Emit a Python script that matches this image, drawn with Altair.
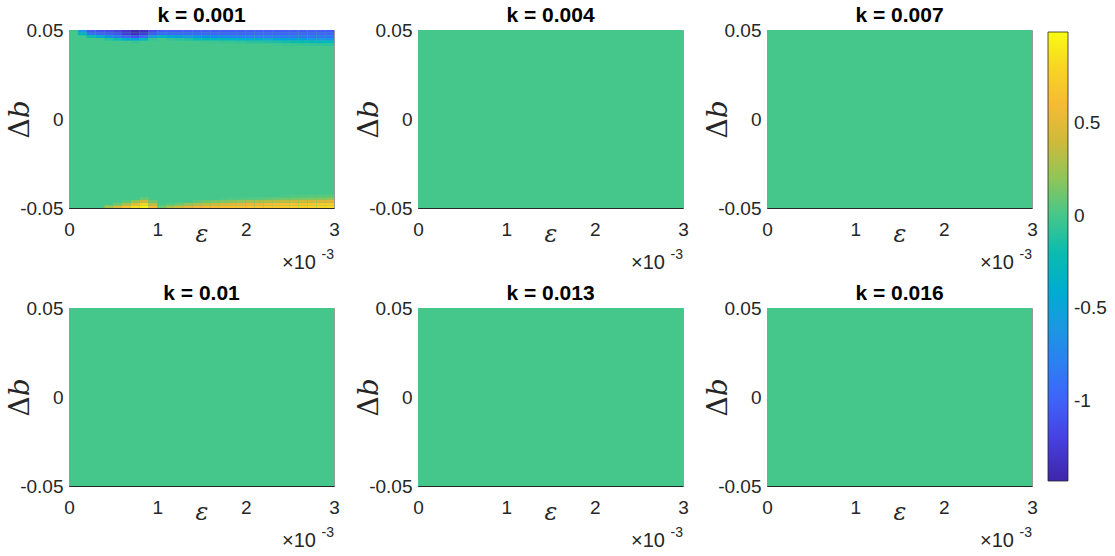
import altair as alt
import pandas as pd

# Coupling constants, one panel each
K_VALUES = [0.001, 0.004, 0.007, 0.01, 0.013, 0.016]

# Grid of the eps axis (0 .. 3e-3) and the edge bands of the Δb axis
EPS_EDGES = [round(i * 1e-4, 6) for i in range(31)]
DB_TOP_EDGES = [0.05, 0.0485, 0.047, 0.0455, 0.044, 0.0425, 0.041]
DB_BOTTOM_EDGES = [-0.05, -0.0485, -0.047, -0.0455, -0.044, -0.0425, -0.041]

# k = 0.001: values in the upper band, row 0 at Δb = 0.05 going down
TOP_ROWS = [
    [0, -0.6, -1.05, -1.1, -1.15, -1.2, -1.3, -1.4, -1.35, -1.15, -1.05, -1.05, -1.05, -1.05, -1.05,
     -1.05, -1.05, -1.05, -1.05, -1.05, -1.05, -1.05, -1.05, -1.05, -1.05, -1.05, -1.05, -1.05, -1.05, -1.05],
    [0, -0.3, -0.9, -1.0, -1.05, -1.1, -1.25, -1.35, -1.25, -1.05, -0.95, -0.95, -0.95, -0.95, -0.98,
     -1.0, -1.0, -1.0, -1.0, -1.0, -1.0, -1.0, -1.0, -1.0, -1.0, -1.0, -1.0, -1.0, -1.0, -1.0],
    [0, 0, -0.2, -0.4, -0.65, -0.85, -1.0, -1.1, -0.95, -0.6, -0.35, -0.5, -0.55, -0.6, -0.65,
     -0.7, -0.72, -0.74, -0.76, -0.78, -0.8, -0.8, -0.82, -0.82, -0.84, -0.84, -0.85, -0.86, -0.86, -0.87],
    [0, 0, 0, 0, -0.1, -0.2, -0.4, -0.55, -0.3, -0.05, 0, -0.05, -0.1, -0.15, -0.2,
     -0.25, -0.3, -0.32, -0.35, -0.38, -0.4, -0.42, -0.45, -0.48, -0.5, -0.52, -0.55, -0.58, -0.6, -0.62],
    [0, 0, 0, 0, 0, 0, 0, -0.05, 0, 0, 0, 0, 0, 0, 0,
     -0.02, -0.03, -0.05, -0.06, -0.08, -0.1, -0.12, -0.14, -0.16, -0.18, -0.2, -0.22, -0.25, -0.28, -0.3],
    [0, 0, 0, 0, 0, 0, 0, 0, 0, 0, 0, 0, 0, 0, 0,
     0, 0, 0, 0, 0, 0, 0, 0, -0.02, -0.03, -0.04, -0.05, -0.06, -0.07, -0.08],
]

# k = 0.001: values in the lower band, row 0 at Δb = -0.05 going up
BOTTOM_ROWS = [
    [0, 0, 0, 0, 0.25, 0.45, 0.65, 0.85, 0.95, 0.6, 0.1, 0.3, 0.4, 0.5, 0.55,
     0.6, 0.62, 0.65, 0.67, 0.68, 0.7, 0.7, 0.72, 0.72, 0.74, 0.75, 0.76, 0.78, 0.8, 0.82],
    [0, 0, 0, 0, 0, 0.1, 0.3, 0.55, 0.8, 0.35, 0, 0.05, 0.1, 0.2, 0.3,
     0.35, 0.4, 0.45, 0.5, 0.52, 0.55, 0.57, 0.6, 0.62, 0.64, 0.66, 0.68, 0.7, 0.72, 0.74],
    [0, 0, 0, 0, 0, 0, 0.05, 0.2, 0.4, 0.1, 0, 0, 0, 0, 0.05,
     0.1, 0.12, 0.15, 0.18, 0.2, 0.25, 0.28, 0.3, 0.32, 0.35, 0.38, 0.4, 0.42, 0.45, 0.48],
    [0, 0, 0, 0, 0, 0, 0, 0, 0.1, 0, 0, 0, 0, 0, 0,
     0, 0, 0.02, 0.03, 0.04, 0.05, 0.06, 0.08, 0.1, 0.12, 0.14, 0.15, 0.17, 0.18, 0.2],
    [0, 0, 0, 0, 0, 0, 0, 0, 0, 0, 0, 0, 0, 0, 0,
     0, 0, 0, 0, 0, 0, 0, 0, 0, 0.02, 0.03, 0.04, 0.05, 0.05, 0.06],
    [0] * 30,
]

# Value of the field away from the edge bands (and everywhere for larger k)
INTERIOR_VALUE = 0.0

# Parula-like colour map, stops given in data units
CMAP_DOMAIN = [-1.43, -1.30, -1.15, -1.00, -0.80, -0.60, -0.45, -0.30, -0.15,
               0.00, 0.12, 0.25, 0.40, 0.55, 0.70, 0.85, 0.99]
CMAP_RANGE = ["#3e26a8", "#4434cc", "#4648ea", "#3f62f8", "#2c7ff2", "#1b98e1", "#0fa8d5",
              "#05b5bf", "#21bea6", "#45c78b", "#72c86b", "#a0c24f", "#cfba3a", "#f3b43a",
              "#fbc52c", "#f6dd20", "#f9fb15"]

W, H = 265, 178
FONT = "Liberation Sans"
INK = "#262626"


def cells_for(k):
    # flat field over the whole domain, with the band cells laid on top of it
    rows = [dict(x=EPS_EDGES[0], x2=EPS_EDGES[-1],
                 y=DB_BOTTOM_EDGES[0], y2=DB_TOP_EDGES[0], v=INTERIOR_VALUE)]
    if k == K_VALUES[0]:
        for band, edges in ((TOP_ROWS, DB_TOP_EDGES), (BOTTOM_ROWS, DB_BOTTOM_EDGES)):
            for r, vals in enumerate(band):
                for c, v in enumerate(vals):
                    if v != INTERIOR_VALUE:
                        rows.append(dict(x=EPS_EDGES[c], x2=EPS_EDGES[c + 1],
                                         y=edges[r], y2=edges[r + 1], v=v))
    return pd.DataFrame(rows)


color_scale = alt.Scale(domain=CMAP_DOMAIN, range=CMAP_RANGE, type="linear", clamp=True)

colorbar = alt.Legend(
    type="gradient", title=None, orient="none", legendX=979, legendY=2, direction="vertical",
    gradientLength=449, gradientThickness=20, gradientStrokeColor=INK,
    gradientStrokeWidth=0.8, values=[-1, -0.5, 0, 0.5],
    labelExpr="replace(format(datum.value, '~g'), '\u2212', '-')",
    labelFont=FONT, labelFontSize=19, labelColor=INK, labelOffset=6,
)


def panel(i, k):
    df = cells_for(k)
    x_enc = alt.X("x:Q", scale=alt.Scale(domain=[0, 0.003], nice=False, zero=False),
                  axis=alt.Axis(values=[0, 0.001, 0.002, 0.003],
                                labelExpr="format(datum.value * 1000, 'd')",
                                labelFont=FONT, labelFontSize=19, labelColor=INK,
                                labelFlush=False, labelPadding=12, ticks=False, grid=False,
                                domainColor=INK, domainWidth=1,
                                title="ε", titleFont="DejaVu Serif", titleFontStyle="italic",
                                titleFontWeight="normal", titleFontSize=24, titleColor=INK,
                                titleX=W / 2, titleY=26, titleBaseline="middle"))
    y_enc = alt.Y("y:Q", scale=alt.Scale(domain=[-0.05, 0.05], nice=False, zero=False),
                  axis=alt.Axis(values=[-0.05, 0, 0.05],
                                labelExpr="datum.value > 0.01 ? '0.05' : (datum.value < -0.01 ? '-0.05' : '0')",
                                labelFont=FONT, labelFontSize=19, labelColor=INK,
                                labelPadding=6, ticks=False, grid=False,
                                domainColor=INK, domainWidth=1,
                                title="Δ𝑏", titleFont="DejaVu Serif", titleFontWeight="normal",
                                titleFontSize=28, titleColor=INK, titleAngle=-90,
                                titleX=-49, titleY=H / 2, titleAlign="center", titleBaseline="middle"))
    rect = alt.Chart(df).mark_rect().encode(
        x=x_enc, x2="x2:Q", y=y_enc, y2="y2:Q",
        color=alt.Color("v:Q", scale=color_scale, legend=colorbar if i == 0 else None),
    )
    # the same cells painted again: covers the anti-aliasing seams between neighbours
    rect_again = alt.Chart(df).mark_rect().encode(
        x=alt.X("x:Q"), x2="x2:Q", y=alt.Y("y:Q"), y2="y2:Q",
        color=alt.Color("v:Q", scale=color_scale, legend=None),
    )
    exp_base = alt.Chart(df.head(1)).mark_text(
        text="×10", font=FONT, fontSize=20, color=INK, align="right", baseline="alphabetic",
        dx=-18, dy=61,
    ).encode(x=alt.datum(0.003), y=alt.datum(-0.05))
    exp_pow = alt.Chart(df.head(1)).mark_text(
        text="-3", font=FONT, fontSize=14, color=INK, align="right", baseline="alphabetic",
        dx=0, dy=51,
    ).encode(x=alt.datum(0.003), y=alt.datum(-0.05))
    return alt.layer(rect, rect_again, rect_again, exp_base, exp_pow).properties(
        width=W, height=H,
        title=alt.Title(f"k = {k:g}", font=FONT, fontSize=21, fontWeight="bold",
                        color="#000000", offset=-5, frame="group"),
    )


chart = alt.concat(*[panel(i, k) for i, k in enumerate(K_VALUES)], columns=3,
                   spacing={"row": 100, "column": 84}, bounds="flush").resolve_scale(
    color="shared"
).properties(
    padding={"left": 5, "top": 4, "right": 0, "bottom": 0},
    background="white",
).configure_view(
    stroke="#9a9a9a", strokeWidth=1,
)

chart.save("out.html", embed_options={"renderer": "svg", "actions": False})
